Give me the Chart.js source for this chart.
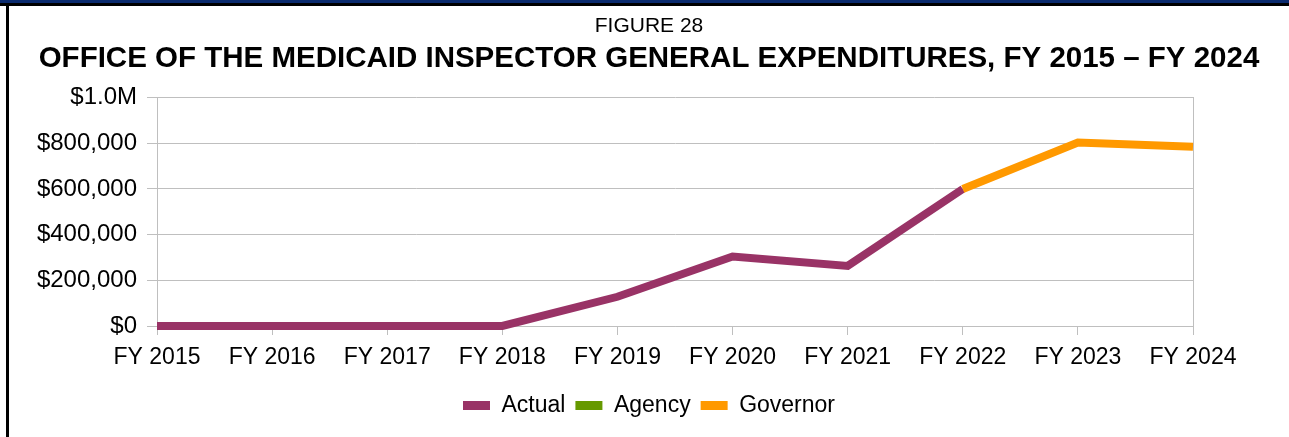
<!DOCTYPE html>
<html>
<head>
<meta charset="utf-8">
<script src="https://cdn.jsdelivr.net/npm/chart.js@4"></script>
<style>
  body { margin: 0; background: #fff; }
  #frame { position: absolute; left: 0; top: 0; width: 1289px; height: 437px; background: #fff; overflow: hidden; }
  #bandBlue { position: absolute; left: 0; top: 0; width: 1289px; height: 3px; background: #0b2b6e; }
  #bandBlack { position: absolute; left: 0; top: 3px; width: 1289px; height: 3px; background: #000; }
  #leftBorder { position: absolute; left: 6px; top: 3px; width: 3px; height: 434px; background: #000; }
  #box { position: absolute; left: 9px; top: 6px; width: 1280px; height: 431px; }
</style>
</head>
<body>
<div id="frame">
  <div id="bandBlue"></div>
  <div id="bandBlack"></div>
  <div id="leftBorder"></div>
  <div id="box"><canvas id="myChart"></canvas></div>
</div>
<script>
// categories
const years = ["FY 2015", "FY 2016", "FY 2017", "FY 2018", "FY 2019", "FY 2020", "FY 2021", "FY 2022", "FY 2023", "FY 2024"];

// series values (dollars)
const actual = [0, 0, 0, 0, 128000, 304000, 263000, 600000, null, null];
const agency = [null, null, null, null, null, null, null, null, null, null];
const governor = [null, null, null, null, null, null, null, 600000, 803000, 785000];

// y tick labels, bottom to top
const yTickLabels = ["$0", "$200,000", "$400,000", "$600,000", "$800,000", "$1.0M"];

const font = "'Liberation Sans', Arial, sans-serif";
const gridColor = "#bfbfbf";

Chart.defaults.font.family = font;
Chart.defaults.color = "#000";

const ctx = document.getElementById("myChart");

new Chart(ctx, {
  type: "line",
  data: {
    labels: years,
    datasets: [
      {
        label: "Actual",
        data: actual,
        borderColor: "#993366",
        backgroundColor: "#993366",
        borderWidth: 8,
        pointRadius: 0,
        clip: false,
        order: 2,
      },
      {
        label: "Agency",
        data: agency,
        borderColor: "#669900",
        backgroundColor: "#669900",
        borderWidth: 8,
        pointRadius: 0,
        clip: false,
        order: 1,
      },
      {
        label: "Governor",
        data: governor,
        borderColor: "#ff9900",
        backgroundColor: "#ff9900",
        borderWidth: 8,
        pointRadius: 0,
        clip: false,
        order: 0,
      },
    ],
  },
  options: {
    responsive: true,
    maintainAspectRatio: false,
    animation: false,
    layout: {
      padding: { left: 0, right: 0, top: 0, bottom: 10 },
    },
    plugins: {
      title: {
        display: true,
        text: "FIGURE 28",
        color: "#000",
        font: { size: 21, weight: "normal" },
        padding: { top: 8, bottom: 2 },
      },
      subtitle: {
        display: true,
        text: "OFFICE OF THE MEDICAID INSPECTOR GENERAL EXPENDITURES, FY 2015 \u2013 FY 2024",
        color: "#000",
        font: { size: 29.5, weight: "bold" },
        padding: { top: 0, bottom: 21 },
      },
      legend: {
        position: "bottom",
        labels: {
          boxWidth: 27,
          boxHeight: 9,
          padding: 10,
          color: "#000",
          font: { size: 23 },
          sort: function (a, b) {
            return a.datasetIndex - b.datasetIndex;
          },
          generateLabels: function (chart) {
            const items = Chart.defaults.plugins.legend.labels.generateLabels(chart);
            items.forEach(function (item) {
              item.lineWidth = 0;
            });
            return items;
          },
        },
      },
      tooltip: { enabled: false },
    },
    scales: {
      x: {
        offset: false,
        grid: {
          drawOnChartArea: false,
          color: gridColor,
          tickLength: 9,
        },
        border: { color: gridColor },
        ticks: {
          maxRotation: 0,
          autoSkip: false,
          padding: 9,
          font: { size: 23 },
        },
        afterFit: function (scale) {
          scale.height = 58;
        },
      },
      y: {
        min: 0,
        max: 1000000,
        grid: {
          color: gridColor,
          tickLength: 10,
        },
        border: { color: gridColor },
        ticks: {
          stepSize: 200000,
          padding: 10,
          font: { size: 24 },
          callback: function (value, index) {
            return yTickLabels[index];
          },
        },
        afterFit: function (scale) {
          scale.width = 148;
        },
      },
      // empty right axis: draws the plot's right edge and reserves the right margin
      y2: {
        position: "right",
        grid: { drawOnChartArea: false, drawTicks: false },
        border: { color: gridColor },
        ticks: { display: false },
        afterFit: function (scale) {
          scale.width = 96;
        },
      },
    },
  },
});
</script>
</body>
</html>
